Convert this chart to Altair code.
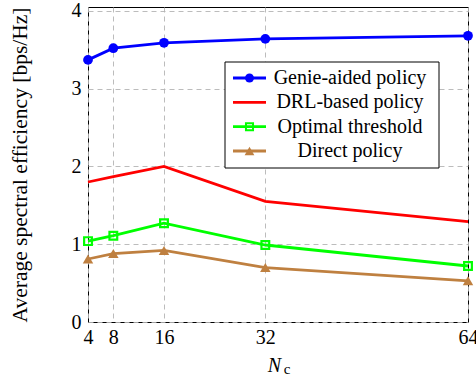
import altair as alt
import pandas as pd

N = [4, 8, 16, 32, 64]
series = ["Genie-aided policy", "DRL-based policy", "Optimal threshold", "Direct policy"]
genie = [3.37, 3.52, 3.59, 3.64, 3.68]
drl = [1.80, 1.87, 2.00, 1.55, 1.29]
optimal = [1.04, 1.11, 1.27, 0.99, 0.72]
direct = [0.81, 0.88, 0.92, 0.70, 0.53]
colors = ["#0000ff", "#ff0000", "#00ff00", "#bf8040"]
y_ticks = [0, 1, 2, 3, 4]

rows = []
for name, vals in zip(series, [genie, drl, optimal, direct]):
    for n, v in zip(N, vals):
        rows.append({"series": name, "N": n, "value": v})
df = pd.DataFrame(rows)
legend_df = pd.DataFrame({"series": series})

FONT = "Liberation Serif"
stroke_scale = alt.Scale(domain=series, range=colors)

x = alt.X(
    "N:Q",
    scale=alt.Scale(domain=[4, 64], nice=False, zero=False),
    axis=alt.Axis(values=N, title="N", titleFontStyle="italic", titleX=186, titleY=43,
                  titleBaseline="middle", titleAlign="center", labelFlush=False,
                  labelPadding=5),
)
y = alt.Y(
    "value:Q",
    scale=alt.Scale(domain=[0, 4.05], nice=False),
    axis=alt.Axis(values=y_ticks, title="Average spectral efficiency [bps/Hz]",
                  titleX=-68, titleY=157.5, titleAngle=-90, titleBaseline="middle",
                  titleAlign="center", titleFontSize=21.5, labelFlush=False,
                  labelPadding=7),
)

base = alt.Chart(df)

lines = base.mark_line(strokeWidth=2.8).encode(
    x=x, y=y, stroke=alt.Stroke("series:N", scale=stroke_scale, legend=None),
)
genie_pts = base.transform_filter(alt.datum.series == series[0]).mark_point(
    shape="circle", filled=True, size=95, color=colors[0], opacity=1
).encode(x=x, y=y)
opt_pts = base.transform_filter(alt.datum.series == series[2]).mark_point(
    shape="square", filled=False, size=60, color=colors[2], strokeWidth=2.2, opacity=1
).encode(x=x, y=y)
dir_pts = base.transform_filter(alt.datum.series == series[3]).mark_point(
    shape="triangle-up", filled=True, size=110, color=colors[3], opacity=1
).encode(x=x, y=y)

main = alt.layer(lines, genie_pts, opt_pts, dir_pts)

# ---- legend, drawn as marks (rows placed by a point scale) ----
ly = alt.Y("series:N", scale=alt.Scale(type="point", domain=series, range=[71, 144], padding=0),
           axis=None)
lbase = alt.Chart(legend_df)

box = alt.Chart(pd.DataFrame({"k": [0]})).mark_rect(
    fill="white", stroke="black", strokeWidth=1
).encode(x=alt.value(137), x2=alt.value(351), y=alt.value(55), y2=alt.value(161))

seg = lbase.mark_rule(strokeWidth=2.8).encode(
    x=alt.value(145), x2=alt.value(178), y=ly,
    stroke=alt.Stroke("series:N", scale=stroke_scale, legend=None),
)
lg_genie = lbase.transform_filter(alt.datum.series == series[0]).mark_point(
    shape="circle", filled=True, size=80, color=colors[0], opacity=1
).encode(x=alt.value(161.5), y=ly)
lg_opt = lbase.transform_filter(alt.datum.series == series[2]).mark_point(
    shape="square", filled=False, size=50, color=colors[2], strokeWidth=2, opacity=1
).encode(x=alt.value(161.5), y=ly)
lg_dir = lbase.transform_filter(alt.datum.series == series[3]).mark_point(
    shape="triangle-up", filled=True, size=95, color=colors[3], opacity=1
).encode(x=alt.value(161.5), y=ly)
labels = lbase.mark_text(
    font=FONT, fontSize=20, align="center", baseline="middle", color="black"
).encode(x=alt.value(262), y=ly, text="series:N")

legend = alt.layer(box, seg, lg_genie, lg_opt, lg_dir, labels)

sub = alt.Chart(pd.DataFrame({"t": ["c"]})).mark_text(
    font=FONT, fontSize=15, align="center", baseline="alphabetic", color="black"
).encode(x=alt.value(199), y=alt.value(367), text="t:N")

chart = alt.layer(main, legend, sub).resolve_scale(y="independent").properties(
    width=380,
    height=315,
    padding={"left": 88, "top": 7, "right": 8, "bottom": 57},
    autosize=alt.AutoSizeParams(type="none"),
).configure_view(
    stroke="black", strokeWidth=1
).configure_axis(
    labelFont=FONT, labelFontSize=20, labelColor="black",
    titleFont=FONT, titleFontSize=20, titleColor="black", titleFontWeight="normal",
    grid=True, gridDash=[5, 4], gridColor="#b4b4b4", gridWidth=0.9,
    ticks=False, domain=False,
)

chart.save("out.html", embed_options={"renderer": "svg", "actions": False})
